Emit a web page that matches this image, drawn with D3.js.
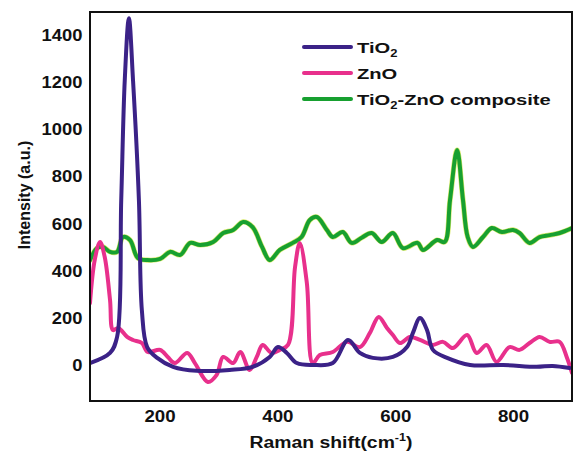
<!DOCTYPE html>
<html>
<head>
<meta charset="utf-8">
<script src="https://cdn.jsdelivr.net/npm/d3@7"></script>
<style>
  html, body { margin: 0; padding: 0; background: #fff; }
  svg { display: block; font-family: "Liberation Sans", Arial, sans-serif; }
</style>
</head>
<body>
<svg id="chart" width="573" height="454"></svg>
<script>
// ---------- data ----------
const xTicks = [200, 400, 600, 800];
const yTicks = [0, 200, 400, 600, 800, 1000, 1200, 1400];

const tio2X = [82,116,128,135,141,148,155,165,170,179,196,223,263,319,358,387,401,416,433,460,494,520,540,562,596,620,630,642,654,664,688,727,783,840,867,896];
const tio2Y = [8,51,119,700,1209,1472,1209,700,233,76,30,-8,-25,-21,-8,34,76,51,8,0,8,106,51,30,34,76,136,199,148,64,30,0,0,-8,-4,-13];

const znoX = [82,90,99,107,116,121,130,145,155,170,180,201,214,226,247,260,282,297,308,325,337,353,365,375,390,404,418,430,438,450,460,472,494,518,540,557,572,586,596,608,625,642,664,681,698,722,738,755,772,794,811,828,845,862,879,891,900];
const znoY = [263,445,522,458,276,148,157,119,106,93,55,64,34,8,51,8,-72,-42,34,8,55,-21,34,85,51,64,85,416,518,348,8,42,55,98,76,136,204,157,127,93,119,106,85,98,72,127,51,85,13,76,64,93,119,98,98,34,-34];

const compX = [82,94,104,116,128,138,150,163,179,201,218,235,252,269,291,308,325,342,358,374,387,404,426,441,455,467,484,494,511,526,543,560,577,596,613,638,647,671,684,693,705,715,723,732,749,764,781,800,811,828,845,862,879,900];
const compY = [445,496,501,480,480,543,530,454,445,450,480,467,518,509,522,560,573,607,585,501,445,488,518,543,615,628,573,543,564,518,540,560,522,560,496,518,488,530,522,700,912,700,543,501,543,581,564,573,560,518,543,551,560,581];

const seriesNames = ["TiO2", "ZnO", "TiO2-ZnO composite"];
const seriesColors = ["#3b2287", "#e8308c", "#17a030"];

// ---------- layout ----------
const svg = d3.select("#chart");
const mLeft = 90, mRight = 572, mTop = 12, mBottom = 401;

const x = d3.scaleLinear().domain([82, 900]).range([mLeft, mRight]);
const y = d3.scaleLinear().domain([-153, 1498]).range([mBottom, mTop]);

const mk = (xs, ys) => xs.map((v, i) => ({ x: v, y: ys[i] }));
const series = [
  { name: seriesNames[2], color: seriesColors[2], data: mk(compX, compY), halo: true },
  { name: seriesNames[1], color: seriesColors[1], data: mk(znoX, znoY) },
  { name: seriesNames[0], color: seriesColors[0], data: mk(tio2X, tio2Y) }
];

const line = d3.line()
  .x(d => x(d.x))
  .y(d => y(d.y))
  .curve(d3.curveCatmullRom.alpha(0.5));

svg.append("defs").append("clipPath").attr("id", "clip")
  .append("rect").attr("x", mLeft).attr("y", mTop).attr("width", mRight - mLeft).attr("height", mBottom - mTop);

const g = svg.append("g").attr("clip-path", "url(#clip)");
series.forEach(s => {
  if (s.halo) {
    g.append("path").datum(s.data).attr("d", line)
      .attr("fill", "none").attr("stroke", "#d6e86a").attr("stroke-width", 5.2)
      .attr("stroke-linejoin", "round").attr("stroke-linecap", "round");
  }
  g.append("path").datum(s.data).attr("d", line)
    .attr("fill", "none").attr("stroke", s.color).attr("stroke-width", 4)
    .attr("stroke-linejoin", "round").attr("stroke-linecap", "round");
});

// frame
svg.append("rect").attr("x", mLeft).attr("y", mTop)
  .attr("width", mRight - mLeft).attr("height", mBottom - mTop)
  .attr("fill", "none").attr("stroke", "#111").attr("stroke-width", 2);

// axes
const yAxis = d3.axisLeft(y).tickValues(yTicks).tickSize(0).tickPadding(7).tickFormat(d3.format("d"));
const yg = svg.append("g").attr("transform", `translate(${mLeft},0)`).call(yAxis);
yg.select(".domain").remove();
yg.selectAll("text").attr("font-size", 17).attr("font-weight", "bold").attr("fill", "#111")
  .attr("font-family", "'Liberation Sans', Arial, sans-serif")
  .attr("transform", "scale(1.08,1)");

const xAxis = d3.axisBottom(x).tickValues(xTicks).tickSize(0).tickPadding(9).tickFormat(d3.format("d"));
const xg = svg.append("g").attr("transform", `translate(0,${mBottom})`).call(xAxis);
xg.select(".domain").remove();
xg.selectAll("text").attr("font-size", 17).attr("font-weight", "bold").attr("fill", "#111")
  .attr("font-family", "'Liberation Sans', Arial, sans-serif")
  .attr("transform", "scale(1.1,1)");

// axis titles
const xt = svg.append("text").attr("transform", "translate(331,448) scale(1.14,1)")
  .attr("text-anchor", "middle").attr("font-size", 17).attr("font-weight", "bold").attr("fill", "#111");
xt.append("tspan").text("Raman shift(cm");
xt.append("tspan").attr("font-size", 11).attr("dy", -7).text("-1");
xt.append("tspan").attr("dy", 7).text(")");

svg.append("text").attr("transform", "translate(30,195) rotate(-90)")
  .attr("text-anchor", "middle").attr("font-size", 16).attr("font-weight", "bold").attr("fill", "#111")
  .text("Intensity (a.u.)");

// legend
const legendItems = [
  { label: ["TiO", "2", ""], color: seriesColors[0] },
  { label: ["ZnO", "", ""], color: seriesColors[1] },
  { label: ["TiO", "2", "-ZnO composite"], color: seriesColors[2] }
];
const lg = svg.append("g");
legendItems.forEach((it, i) => {
  const ly = 47 + i * 26;
  lg.append("line").attr("x1", 304).attr("x2", 351).attr("y1", ly).attr("y2", ly)
    .attr("stroke", it.color).attr("stroke-width", 4).attr("stroke-linecap", "round");
  const t = lg.append("text").attr("transform", `translate(357,${ly + 5.5}) scale(1.3,1)`)
    .attr("font-size", 15.5).attr("font-weight", "bold").attr("fill", "#111");
  t.append("tspan").text(it.label[0]);
  if (it.label[1]) t.append("tspan").attr("font-size", 10).attr("dy", 4).text(it.label[1]);
  if (it.label[2]) t.append("tspan").attr("dy", -4).text(it.label[2]);
});
</script>
</body>
</html>
